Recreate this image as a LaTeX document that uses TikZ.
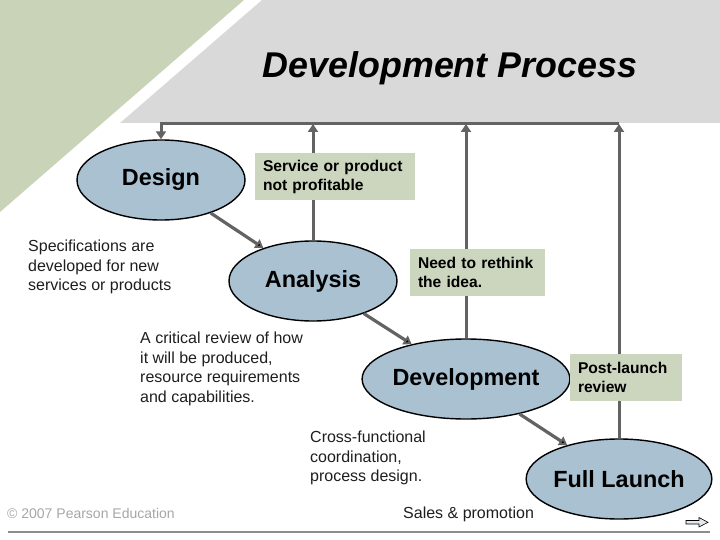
\documentclass[tikz,border=0pt]{standalone}
\usepackage{fontspec}
\setmainfont{Liberation Sans}
\usepackage{tikz}
\usetikzlibrary{arrows.meta, positioning, shapes.geometric}
\usepackage{xcolor}
\definecolor{bandgreen}{RGB}{201,211,183}
\definecolor{bandgray}{RGB}{217,217,217}
\definecolor{stageblue}{RGB}{169,193,209}
\definecolor{notegreen}{RGB}{204,213,190}
\definecolor{linegray}{RGB}{99,99,99}
\definecolor{textgray}{RGB}{30,30,30}
\definecolor{copygray}{RGB}{166,166,166}
\definecolor{rulegray}{RGB}{140,140,140}
\definecolor{navfill}{RGB}{225,232,238}

\begin{document}
\begin{tikzpicture}[x=1pt,y=-1pt,on grid,line join=miter]
    \tikzstyle{stage}=[shape=ellipse,draw=black,line width=1.4pt,fill=stageblue,minimum width=168pt,minimum height=80pt,inner sep=0pt,font=\fontsize{23.4}{28}\selectfont\bfseries]
    \tikzstyle{note}=[shape=rectangle,fill=notegreen,inner xsep=8pt,inner ysep=0pt,minimum height=47pt,align=left,font=\fontsize{15.6}{19}\selectfont\bfseries]
    \tikzstyle{remark}=[anchor=north west,inner sep=0pt,align=left,text=textgray,font=\fontsize{16}{19.5}\selectfont]
    \tikzstyle{flow}=[-{Triangle[width=10pt,length=8pt]},draw=linegray,line width=3.2pt]
    \tikzstyle{back}=[flow,line width=3pt]

    % background
    \useasboundingbox (0,0) rectangle (720,540);
    \fill[bandgreen] (0,0) -- (244,0) -- (0,212) -- cycle;
    \fill[bandgray] (262,0) -- (720,0) -- (720,123) -- (120,123) -- cycle;

    \node (title) at (450,68) {\fontsize{35.8}{40}\selectfont\bfseries\itshape Development Process};

    \node[stage] (design) at (161,180) {Design};
    \node[stage, below right=101pt and 152pt of design] (analysis) {Analysis};
    \node[stage, below right=98pt and 153pt of analysis] (development) {Development};
    \node[stage, below right=100pt and 153pt of development] (launch) {Full Launch};

    \path[flow]
    (design) edge (analysis)
    (analysis) edge (development)
    (development) edge (launch)
    ;

    % loops back to the start
    \coordinate (rail) at (0,124);
    \draw[back] (analysis.north) -- (analysis |- rail);
    \draw[back] (development.north) -- (development |- rail);
    \draw[back] (launch.north) -- (launch |- rail);
    \draw[back] (launch |- rail) -- (design |- rail) -- (design.north);

    \node[note, text width=144pt] (unprofitable) at (335,177) {Service or product\\not profitable};
    \node[note, text width=119pt] (rethink) at (477.5,272.5) {Need to rethink\\the idea.};
    \node[note, text width=96pt] (postlaunch) at (626,377.5) {Post-launch\\review};

    \node[remark] (specs) at (28,240) {Specifications are\\developed for new\\services or products};
    \node[remark] (critique) at (140,332) {A critical review of how\\it will be produced,\\resource requirements\\and capabilities.};
    \node[remark] (crossfunc) at (310,431) {Cross-functional\\coordination,\\process design.};
    \node[remark] (sales) at (403,507) {Sales \& promotion};
    \node[remark, text=copygray, font=\fontsize{14}{17}\selectfont] (copyright) at (7,508) {\textcopyright{} 2007 Pearson Education};

    % footer
    \draw[rulegray, line width=1.5pt] (8,532) -- (710,532);
    \draw[black, line width=0.6pt, fill=navfill] (686,520.5) -- (699,520.5) -- (699,517.5) -- (708,522.3) -- (699,527) -- (699,524) -- (686,524) -- cycle;
\end{tikzpicture}
\end{document}
